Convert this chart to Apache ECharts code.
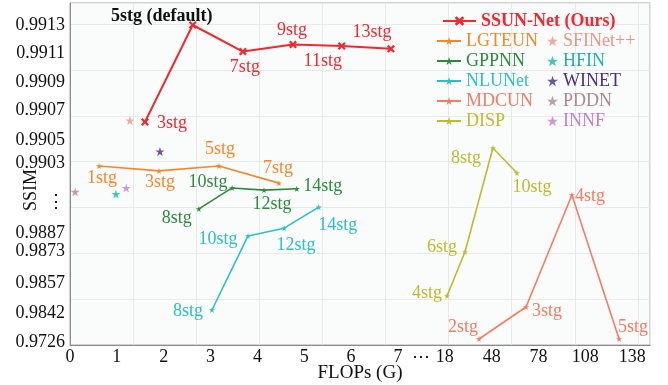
<!DOCTYPE html>
<html>
<head>
<meta charset="utf-8">
<script src="https://cdn.jsdelivr.net/npm/echarts@6/dist/echarts.min.js"></script>
<style>
  html, body { margin: 0; background: #fff; }
  #chart { width: 668px; height: 385px; }
</style>
</head>
<body>
<div id="chart"></div>
<script>
// tick labels of the two broken axes
const xTickVals = [0, 1, 2, 3, 4, 5, 6, 7, 18, 48, 78, 108, 138]
const yTickVals = [0.9726, 0.9842, 0.9857, 0.9873, 0.9887, 0.9903, 0.9905, 0.9907, 0.9909, 0.9911, 0.9913]

// SSUN-Net (ours)
const ssunFlops = [1.60, 2.62, 3.69, 4.76, 5.80, 6.85]
const ssunSsim = [0.99062, 0.99130, 0.99111, 0.99116, 0.99115, 0.99113]
const ssunStages = ['3stg', '5stg (default)', '7stg', '9stg', '11stg', '13stg']

const lgteunFlops = [0.62, 1.90, 3.18, 4.46]
const lgteunSsim = [0.99023, 0.99012, 0.99023, 0.98984]
const lgteunStages = ['1stg', '3stg', '5stg', '7stg']

const gppnnFlops = [2.75, 3.46, 4.14, 4.84]
const gppnnSsim = [0.98925, 0.98973, 0.98968, 0.98971]
const gppnnStages = ['8stg', '10stg', '12stg', '14stg']

const nlunetFlops = [3.03, 3.80, 4.57, 5.31]
const nlunetSsim = [0.98435, 0.98847, 0.98881, 0.98929]
const nlunetStages = ['8stg', '10stg', '12stg', '14stg']

const mdcunFlops = [39.9, 70.0, 99.4, 129.6]
const mdcunSsim = [0.9738, 0.9845, 0.98957, 0.9738]
const mdcunStages = ['2stg', '3stg', '4stg', '5stg']

const dispFlops = [19.4, 30.9, 48.8, 64.2]
const dispSsim = [0.98505, 0.98725, 0.99043, 0.99007]
const dispStages = ['4stg', '6stg', '8stg', '10stg']

// single-point methods
const singleNames = ['SFINet++', 'HFIN', 'WINET', 'PDDN', 'INNF']
const singleFlops = [1.28, 0.98, 1.92, 0.11, 1.20]
const singleSsim = [0.99063, 0.98959, 0.99040, 0.98964, 0.98973]

/* layout of the broken scales: where each tick sits on the axis */
const xTickPos = xTickVals.map((v, i) => i)
const yTickPos = [3, 32, 62, 94, 112, 182, 205, 235, 263, 292, 320]
const X_MAX = 12.38
const Y_MAX = 342
const X_DOTS = 7.5
const Y_DOTS = 143

const FONT = '"Liberation Serif", "DejaVu Serif", serif'
const STAR = 'path://M0,-100L22.45,-30.9L95.1,-30.9L36.33,11.8L58.8,80.9L0,38.2L-58.8,80.9L-36.33,11.8L-95.1,-30.9L-22.45,-30.9Z'
const CROSS = 'path://M-10,-6L-6,-10L0,-4L6,-10L10,-6L4,0L10,6L6,10L0,4L-6,10L-10,6L-4,0Z'

const colors = {
  'SSUN-Net (Ours)': '#ee2a30',
  LGTEUN: '#f5872a',
  GPPNN: '#2f8a3e',
  NLUNet: '#2cc0c2',
  MDCUN: '#f47c62',
  DISP: '#bdbd2c',
  'SFINet++': '#ee9482',
  HFIN: '#1fb3a6',
  WINET: '#4b2a85',
  PDDN: '#b3868c',
  INNF: '#c67dd0'
}

const ssunOffsets = [[27, 1], [-31, -9], [2, 16], [-1, -14], [-19, 15], [-19, -17]]
const lgteunOffsets = [[3, 12], [1, 11], [1, -17], [-1, -15]]
const gppnnOffsets = [[-22, 9], [-24, -6], [8, 14], [26, -3]]
const nlunetOffsets = [[-24, 1], [-30, 3], [12, 17], [19, 18]]
const mdcunOffsets = [[-16, -12], [21, 4], [18, 1], [14, -12]]
const dispOffsets = [[-20, -3], [-23, -5], [-27, 10], [15, 14]]

function interp (v, vals, pos) {
  if (v <= vals[0]) return pos[0] + (v - vals[0]) / (vals[1] - vals[0]) * (pos[1] - pos[0])
  for (let i = 1; i < vals.length; i++) {
    if (v <= vals[i] || i === vals.length - 1) {
      const t = (v - vals[i - 1]) / (vals[i] - vals[i - 1])
      return pos[i - 1] + t * (pos[i] - pos[i - 1])
    }
  }
}
const toX = v => interp(v, xTickVals, xTickPos)
const toY = v => interp(v, yTickVals, yTickPos)

function lineSeries (name, flops, ssim, stages, offsets, opts) {
  const color = colors[name]
  return Object.assign({
    name,
    type: 'line',
    color,
    symbol: STAR,
    symbolSize: 6,
    lineStyle: { width: 1.6, color },
    itemStyle: { color },
    label: { show: true, position: 'inside', color, fontSize: 18, fontFamily: FONT },
    emphasis: { disabled: true },
    data: flops.map((f, i) => ({
      value: [toX(f), toY(ssim[i])],
      label: { formatter: stages[i], offset: offsets[i] }
    }))
  }, opts)
}

const ssun = lineSeries('SSUN-Net (Ours)', ssunFlops, ssunSsim, ssunStages, ssunOffsets,
  { symbol: CROSS, symbolSize: 8, lineStyle: { width: 2, color: colors['SSUN-Net (Ours)'] }, z: 5 })
ssun.data[1].label.color = '#111'
ssun.data[1].label.fontWeight = 'bold'

const series = [
  ssun,
  lineSeries('LGTEUN', lgteunFlops, lgteunSsim, lgteunStages, lgteunOffsets),
  lineSeries('GPPNN', gppnnFlops, gppnnSsim, gppnnStages, gppnnOffsets),
  lineSeries('NLUNet', nlunetFlops, nlunetSsim, nlunetStages, nlunetOffsets),
  lineSeries('MDCUN', mdcunFlops, mdcunSsim, mdcunStages, mdcunOffsets),
  lineSeries('DISP', dispFlops, dispSsim, dispStages, dispOffsets)
]
singleNames.forEach((name, i) => {
  series.push({
    name,
    type: 'scatter',
    symbol: STAR,
    symbolSize: 9,
    itemStyle: { color: colors[name] },
    emphasis: { disabled: true },
    data: [[toX(singleFlops[i]), toY(singleSsim[i])]]
  })
})

const legendItem = name => ({ name, textStyle: { color: colors[name] } })
const legendBase = {
  selectedMode: false,
  orient: 'vertical',
  itemGap: 2,
  textStyle: { fontSize: 18, fontFamily: FONT }
}

const xLabels = v => Math.abs(v - X_DOTS) < 1e-6 ? '⋯' : String(xTickVals[Math.round(v)])
const yLabels = v => {
  if (Math.abs(v - Y_DOTS) < 1e-6) return '⋮'
  const i = yTickPos.findIndex(p => Math.abs(p - v) < 1e-6)
  return yTickVals[i].toFixed(4)
}

const option = {
  backgroundColor: '#fff',
  animation: false,
  grid: {
    left: 70, right: 18, top: 3, bottom: 40,
    outerBoundsMode: 'none',
    containLabel: false,
    show: true,
    backgroundColor: '#fafbfb',
    borderColor: '#a8a8a8',
    borderWidth: 1
  },
  legend: [
    Object.assign({}, legendBase, {
      data: [{ name: 'SSUN-Net (Ours)', textStyle: { color: colors['SSUN-Net (Ours)'], fontWeight: 'bold' } }],
      left: 437, top: 7, itemWidth: 33, itemHeight: 12
    }),
    Object.assign({}, legendBase, {
      data: ['LGTEUN', 'GPPNN', 'NLUNet', 'MDCUN', 'DISP'].map(legendItem),
      left: 431, top: 27, itemWidth: 24, itemHeight: 10
    }),
    Object.assign({}, legendBase, {
      data: singleNames.map(legendItem),
      left: 542, top: 27, itemWidth: 11, itemHeight: 11
    })
  ],
  xAxis: [
    {
      type: 'value',
      min: 0,
      max: X_MAX,
      name: 'FLOPs (G)',
      nameLocation: 'middle',
      nameGap: 19,
      nameMoveOverlap: false,
      nameTextStyle: { fontSize: 19, fontFamily: FONT, color: '#111' },
      axisLine: { lineStyle: { color: '#8a8a8a' } },
      axisTick: { show: false },
      splitLine: { show: false },
      axisLabel: {
        customValues: xTickPos.concat([X_DOTS]),
        formatter: xLabels,
        fontSize: 18,
        fontFamily: FONT,
        color: '#111',
        margin: 3
      }
    },
    {
      // only draws the background grid lines
      type: 'value',
      position: 'top',
      min: -18.1,
      max: 561.9,
      interval: 63.1,
      axisLine: { show: false },
      axisTick: { show: false },
      axisLabel: { show: false },
      splitLine: { show: true, lineStyle: { color: '#e8eaea', width: 1 } }
    }
  ],
  yAxis: [
    {
      type: 'value',
      min: 0,
      max: Y_MAX,
      name: 'SSIM',
      nameLocation: 'middle',
      nameGap: 30,
      nameMoveOverlap: false,
      nameTextStyle: { fontSize: 18, fontFamily: FONT, color: '#111', padding: [0, 32, 0, 0] },
      axisLine: { show: true, lineStyle: { color: '#8a8a8a' } },
      axisTick: { show: false },
      splitLine: { show: false },
      axisLabel: {
        customValues: yTickPos.concat([Y_DOTS]),
        formatter: yLabels,
        fontSize: 18,
        fontFamily: FONT,
        color: '#111',
        margin: 5
      }
    },
    {
      type: 'value',
      position: 'right',
      min: -10.83,
      max: 331.17,
      interval: 45.83,
      axisLine: { show: false },
      axisTick: { show: false },
      axisLabel: { show: false },
      splitLine: { show: true, lineStyle: { color: '#e8eaea', width: 1 } }
    }
  ],
  series
}

const chart = echarts.init(document.getElementById('chart'), null, { renderer: 'canvas' })
chart.setOption(option)
</script>
</body>
</html>
